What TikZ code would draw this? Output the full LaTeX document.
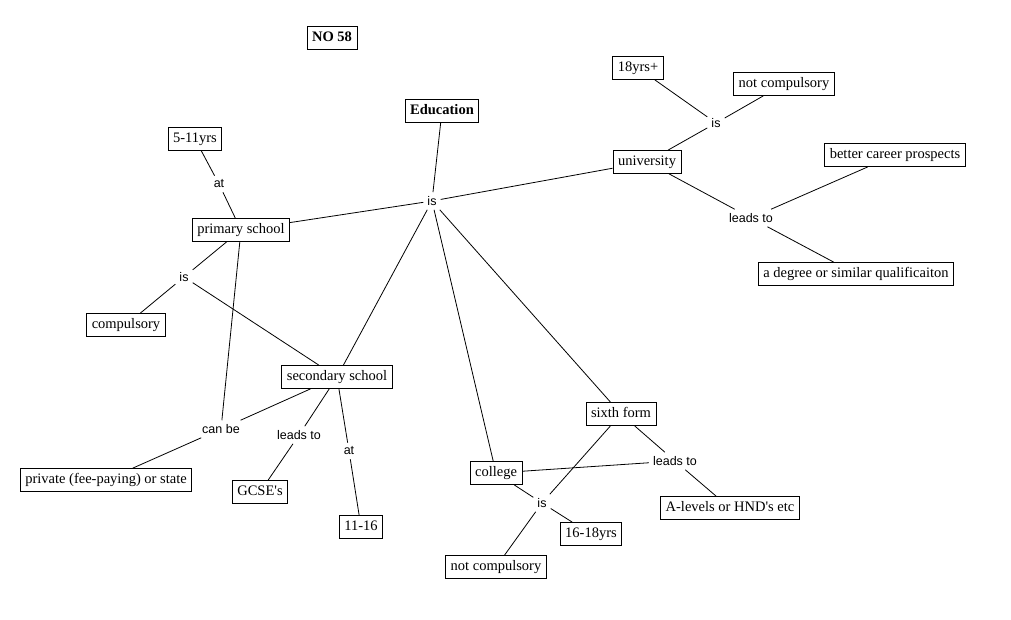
\documentclass[tikz,border=0pt]{standalone}
\usepackage{fontspec}
\setmainfont{Liberation Serif}[Ligatures=TeXOff]
\newfontfamily\lblfont{Liberation Sans}
\begin{document}
\begin{tikzpicture}[x=1pt,y=-1pt,
  concept/.style={draw, line width=0.8pt, font=\fontsize{14.5}{16}\selectfont, inner xsep=5pt, inner ysep=0pt, minimum height=23pt, text height=10.5pt, text depth=3pt},
  lbl/.style={font=\lblfont\fontsize{12.5}{14}\selectfont, inner sep=4pt},
  conn/.style={line width=0.8pt}]
\useasboundingbox (0,0) rectangle (1011,619);
\fill[white] (0,0) rectangle (1011,619);
% concepts
\node[concept, font=\bfseries\fontsize{14.5}{16}\selectfont] (no58) at (332,38) {NO 58};
\node[concept, font=\bfseries\fontsize{14.5}{16}\selectfont] (edu) at (442,111) {Education};
\node[concept] (age511) at (195,139) {5-11yrs};
\node[concept] (prim) at (241,230) {primary school};
\node[concept] (comp) at (126,325) {compulsory};
\node[concept] (sec) at (337,377) {secondary school};
\node[concept] (priv) at (106,480) {private (fee-paying) or state};
\node[concept] (gcse) at (260,492) {GCSE's};
\node[concept] (age1116) at (361,527) {11-16};
\node[concept] (uni) at (647,162) {university};
\node[concept] (age18) at (638,68) {18yrs+};
\node[concept] (notcomp1) at (784,84) {not compulsory};
\node[concept] (career) at (895,155) {better career prospects};
\node[concept] (degree) at (856,274) {a degree or similar qualificaiton};
\node[concept] (sixth) at (621,414) {sixth form};
\node[concept] (alev) at (730,508) {A-levels or HND's etc};
\node[concept] (coll) at (496,473) {college};
\node[concept] (age1618) at (591,534) {16-18yrs};
\node[concept] (notcomp2) at (496,567) {not compulsory};
% linking phrases
\node[lbl] (isC) at (432,201) {is};
\node[lbl] (atP) at (219,184) {at};
\node[lbl] (isP) at (184,277) {is};
\node[lbl] (canbe) at (221,429) {can be};
\node[lbl] (leadsS) at (299,435) {leads to};
\node[lbl] (atS) at (349,451) {at};
\node[lbl] (isU) at (716,123) {is};
\node[lbl] (leadsU) at (751,218) {leads to};
\node[lbl] (leadsF) at (675,461) {leads to};
\node[lbl] (isCo) at (542,503) {is};
% connectors
\draw[conn] (edu) -- (isC);
\draw[conn] (isC) -- (prim);
\draw[conn] (isC) -- (uni);
\draw[conn] (isC) -- (sec);
\draw[conn] (isC) -- (coll);
\draw[conn] (isC) -- (sixth);
\draw[conn] (age511) -- (atP);
\draw[conn] (atP) -- (prim);
\draw[conn] (prim) -- (isP);
\draw[conn] (isP) -- (comp);
\draw[conn] (isP) -- (sec);
\draw[conn] (prim) -- (canbe);
\draw[conn] (sec) -- (canbe);
\draw[conn] (canbe) -- (priv);
\draw[conn] (sec) -- (leadsS);
\draw[conn] (leadsS) -- (gcse);
\draw[conn] (sec) -- (atS);
\draw[conn] (atS) -- (age1116);
\draw[conn] (uni) -- (isU);
\draw[conn] (isU) -- (age18);
\draw[conn] (isU) -- (notcomp1);
\draw[conn] (uni) -- (leadsU);
\draw[conn] (leadsU) -- (career);
\draw[conn] (leadsU) -- (degree);
\draw[conn] (sixth) -- (leadsF);
\draw[conn] (coll) -- (leadsF);
\draw[conn] (leadsF) -- (alev);
\draw[conn] (coll) -- (isCo);
\draw[conn] (sixth) -- (isCo);
\draw[conn] (isCo) -- (age1618);
\draw[conn] (isCo) -- (notcomp2);
\end{tikzpicture}
\end{document}
